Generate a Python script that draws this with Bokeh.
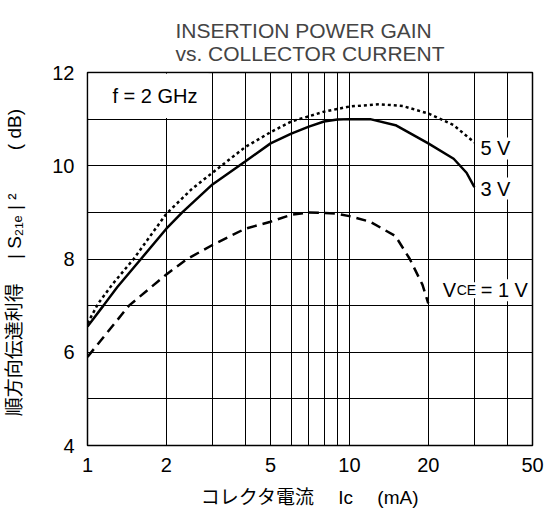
from bokeh.plotting import figure
from bokeh.models import FixedTicker, Label, BoxAnnotation, Range1d, PrintfTickFormatter
from bokeh.embed import file_html
from bokeh.resources import INLINE

# data
ic_5v = [1, 1.1, 1.25, 1.5, 2, 2.5, 3, 4, 5, 6, 7, 8, 10, 13, 16, 20, 25, 30]
g_5v = [6.62, 7.05, 7.47, 8.0, 8.97, 9.5, 9.85, 10.4, 10.72, 10.95, 11.06, 11.16, 11.27, 11.32, 11.28, 11.12, 10.87, 10.5]

ic_3v = [1, 1.15, 1.3, 1.6, 2, 2.3, 3, 4, 5, 6, 7, 8, 9, 10, 12, 15, 20, 25, 28, 30]
g_3v = [6.55, 7.0, 7.4, 8.0, 8.65, 9.0, 9.6, 10.09, 10.48, 10.69, 10.84, 10.95, 10.99, 11.0, 11.0, 10.87, 10.48, 10.15, 9.85, 9.54]

ic_1v = [1, 1.2, 1.44, 2, 2.4, 3, 4, 5, 6, 7, 8, 9, 10, 12, 15, 17, 19, 20]
g_1v = [5.9, 6.45, 7.0, 7.67, 8.0, 8.3, 8.65, 8.8, 8.95, 9.0, 8.99, 8.97, 8.92, 8.8, 8.49, 8.0, 7.45, 7.05]

x_major = [1, 2, 5, 10, 20, 50]
x_minor = [3, 4, 6, 7, 8, 9, 30, 40]
y_major = [4, 6, 8, 10, 12]
y_minor = [5, 7, 9, 11]

title_lines = ["INSERTION POWER GAIN", "vs. COLLECTOR CURRENT"]

LAT = "Liberation Sans"
MIX = "Liberation Sans, Noto Sans CJK JP"

p = figure(width=552, height=511, x_axis_type="log",
           x_range=Range1d(1, 50), y_range=Range1d(4, 12),
           output_backend="svg", toolbar_location=None,
           min_border_left=87, min_border_right=20,
           min_border_top=72, min_border_bottom=66)

p.background_fill_color = "white"
p.border_fill_color = "white"
p.outline_line_color = "black"
p.outline_line_width = 1.5
p.outline_line_alpha = 1

xt = FixedTicker(ticks=x_major, minor_ticks=x_minor)
yt = FixedTicker(ticks=y_major, minor_ticks=y_minor)
p.xaxis.ticker = xt
p.xgrid.ticker = xt
p.yaxis.ticker = yt
p.ygrid.ticker = yt
p.xaxis.formatter = PrintfTickFormatter(format="%d")
p.yaxis.formatter = PrintfTickFormatter(format="%d")

for g in (p.xgrid, p.ygrid):
    g.grid_line_color = "black"
    g.grid_line_width = 1
    g.grid_line_alpha = 1
    g.minor_grid_line_color = "black"
    g.minor_grid_line_width = 1
    g.minor_grid_line_alpha = 1

for ax in (p.xaxis, p.yaxis):
    ax.axis_line_color = None
    ax.major_tick_line_color = None
    ax.minor_tick_line_color = None
    ax.major_label_text_font = LAT
    ax.major_label_text_font_size = "20px"
    ax.major_label_text_color = "black"
    ax.axis_label_text_font = MIX
    ax.axis_label_text_font_size = "18px"
    ax.axis_label_text_font_style = "normal"
    ax.axis_label_text_color = "black"

p.xaxis.major_label_standoff = 6
p.yaxis.major_label_standoff = 7
p.xaxis.axis_label = "コレクタ電流　 Ic　 (mA)"
p.xaxis.axis_label_text_font_size = "19px"
p.xaxis.axis_label_standoff = 12
p.yaxis.axis_label = "　順方向伝達利得　  |  S₂₁ₑ |   ²　　 (  dB)"
p.yaxis.axis_label_text_font_size = "19px"
p.yaxis.axis_label_standoff = 24

# white cell behind the frequency note
p.add_layout(BoxAnnotation(left=1.01, right=2.9, bottom=11.025, top=11.975,
                           fill_color="white", fill_alpha=1, line_color=None,
                           level="underlay"))

p.line(ic_5v, g_5v, line_width=2.5, color="black", line_dash="3 3")
p.line(ic_3v, g_3v, line_width=2.5, color="black")
p.line(ic_1v, g_1v, line_width=2.5, color="black", line_dash="10 6")

def lab(x, y, text, size="20px", xo=0, bg=None, base="middle"):
    l = Label(x=x, y=y, text=text, x_offset=xo, text_font=LAT,
              text_font_size=size, text_color="black", text_baseline=base,
              text_align="left", background_fill_color=bg)
    p.add_layout(l)

lab(1, 11.5, "f = 2 GHz", xo=25)
lab(30, 10.37, "5 V", xo=6, bg="white")
lab(30, 9.51, "3 V", xo=6, bg="white")
lab(22.7, 7.33, "V", xo=0, bg="white", base="alphabetic")
lab(22.7, 7.33, "CE", size="14px", xo=14, bg="white", base="alphabetic")
lab(22.7, 7.33, "= 1 V", xo=38, bg="white", base="alphabetic")

p.title.text = "\n".join(title_lines)
p.title.align = "center"
p.title.text_font = LAT
p.title.text_font_size = "21px"
p.title.text_font_style = "normal"
p.title.text_line_height = 1.0
p.title.standoff = 16

open("out.html", "w").write(file_html(p, INLINE))
